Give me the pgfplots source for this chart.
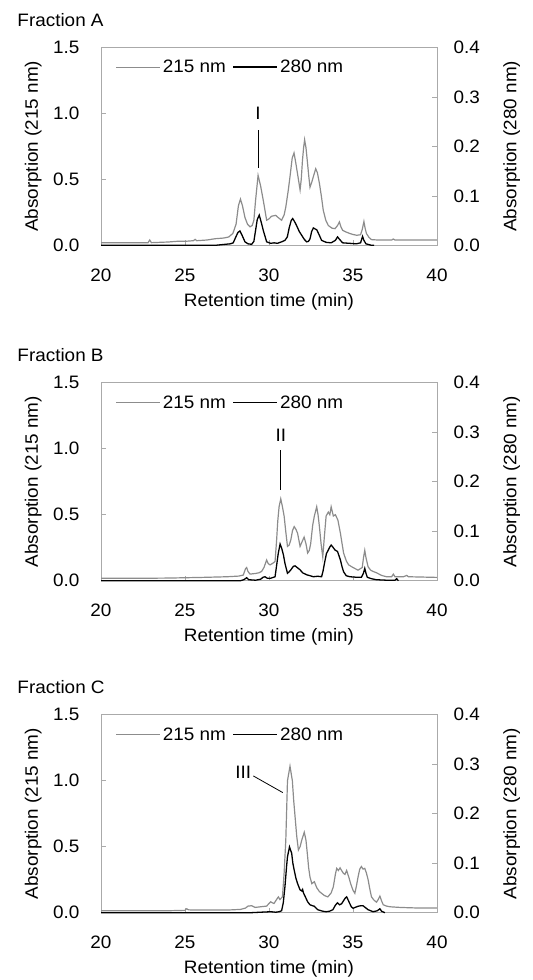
\documentclass[border=0pt]{standalone}
\usepackage{fontspec}
\setmainfont{Liberation Sans}[FakeStretch=1.05]
\usepackage{pgfplots}
\pgfplotsset{compat=1.18}

\definecolor{framegray}{RGB}{170,170,170}
\definecolor{gray215}{RGB}{140,140,140}
\newcommand\lbl{\fontsize{18bp}{21bp}\selectfont}

\pgfplotsset{
  base/.style={width=336bp,height=198bp,scale only axis,clip=false,
    xmin=20,xmax=40,
    /pgf/number format/assume math mode=true,
    axis line style={framegray,line width=0.6pt},
    tick style={framegray,line width=0.6pt},
    major tick length=5bp,tick align=inside,
    every tick label/.append style={font=\lbl},
    label style={font=\lbl},
    y tick label style={/pgf/number format/.cd,fixed,fixed zerofill,precision=1}},
  lft/.style={base,ymin=0,ymax=1.5,ytick={0,0.5,1,1.5},
    xtick={20,25,30,35,40},xtick pos=bottom,ytick pos=left,
    yticklabel shift=18bp,xticklabel shift=20bp,
    xlabel={Retention time (min)},
    xlabel style={at={(axis description cs:0.5,-0.285)},anchor=center},
    ylabel={Absorption (215 nm)},
    ylabel style={at={(axis description cs:-0.202,0.5)},anchor=center}},
  rgt/.style={base,ymin=0,ymax=0.4,ytick={0,0.1,0.2,0.3,0.4},
    hide x axis,axis y line*=right,tick align=inside,
    yticklabel shift=13bp,
    ylabel={Absorption (280 nm)},
    ylabel style={at={(axis description cs:1.222,0.5)},anchor=center},
    legend style={draw=none,fill=none,font=\lbl,
      at={(axis description cs:0.034,0.9)},anchor=west,
      legend columns=2,/tikz/every even column/.append style={column sep=5bp}},
    legend image code/.code={\draw[#1] (0bp,0bp) -- (44bp,0bp);}},
  l215/.style={gray215,line width=1.2pt},
  l280/.style={black,line width=1.3pt}
}

\begin{document}
\begin{tikzpicture}
\path[use as bounding box] (0,0) rectangle (533bp,-980bp);

% ---------- Fraction A ----------
\begin{axis}[lft,at={(101bp,-245.3bp)},anchor=south west]
\addplot[l215] coordinates {(20,0.02) (21,0.02) (22,0.02) (22.8,0.02) (22.9,0.04) (23.0,0.02) (24,0.025) (24.5,0.03) (25,0.03) (25.5,0.035) (25.6,0.045) (25.7,0.035) (26.3,0.04) (26.8,0.05) (27.3,0.055) (27.6,0.063) (27.85,0.09) (28.04,0.16) (28.18,0.30) (28.3,0.35) (28.42,0.30) (28.57,0.21) (28.72,0.16) (28.87,0.14) (29.0,0.15) (29.1,0.19) (29.2,0.34) (29.35,0.53) (29.5,0.45) (29.66,0.34) (29.86,0.19) (30.0,0.20) (30.15,0.22) (30.4,0.227) (30.55,0.21) (30.75,0.19) (30.9,0.23) (31.0,0.29) (31.15,0.42) (31.25,0.52) (31.38,0.66) (31.49,0.70) (31.6,0.62) (31.7,0.54) (31.85,0.42) (31.92,0.50) (31.99,0.64) (32.06,0.74) (32.12,0.80) (32.2,0.74) (32.28,0.64) (32.37,0.52) (32.44,0.44) (32.55,0.48) (32.64,0.52) (32.78,0.58) (32.88,0.55) (33.0,0.47) (33.12,0.37) (33.23,0.265) (33.38,0.19) (33.53,0.15) (33.75,0.13) (33.93,0.126) (34.08,0.15) (34.19,0.177) (34.28,0.14) (34.38,0.114) (34.6,0.10) (34.82,0.089) (35.0,0.082) (35.22,0.076) (35.45,0.08) (35.55,0.12) (35.65,0.18) (35.72,0.13) (35.8,0.089) (35.95,0.06) (36.1,0.043) (36.5,0.04) (37.3,0.04) (37.4,0.048) (37.5,0.04) (38.5,0.04) (39.5,0.04) (40,0.04)};
\node[font=\lbl] at (axis cs:29.35,1.0) {I};
\draw[black,line width=0.8pt] (axis cs:29.35,0.873) -- (axis cs:29.35,0.585);
\node[anchor=west,font=\lbl] at (axis description cs:-0.259,1.138) {Fraction A};
\end{axis}
\begin{axis}[rgt,at={(101bp,-245.3bp)},anchor=south west]
\addlegendimage{l215}\addlegendentry{215 nm}
\addplot[l280] coordinates {(20,0) (26.8,0) (27.4,0.002) (27.7,0.003) (27.87,0.005) (28.0,0.015) (28.15,0.026) (28.27,0.029) (28.4,0.02) (28.57,0.007) (28.75,0.003) (28.97,0.002) (29.1,0.008) (29.2,0.03) (29.3,0.052) (29.42,0.061) (29.55,0.045) (29.66,0.03) (29.86,0.007) (30.1,0.004) (30.3,0.005) (30.5,0.004) (30.75,0.007) (30.95,0.01) (31.09,0.017) (31.2,0.035) (31.32,0.05) (31.41,0.054) (31.52,0.048) (31.64,0.04) (31.8,0.028) (31.95,0.02) (32.1,0.012) (32.24,0.007) (32.35,0.008) (32.44,0.013) (32.54,0.028) (32.64,0.035) (32.75,0.033) (32.85,0.031) (33.0,0.02) (33.13,0.01) (33.4,0.006) (33.7,0.005) (33.95,0.01) (34.08,0.017) (34.2,0.012) (34.38,0.005) (34.8,0.004) (35.2,0.003) (35.45,0.005) (35.57,0.018) (35.65,0.01) (35.77,0.003) (36.1,0) (36.25,0)};
\addlegendentry{280 nm}
\end{axis}

% ---------- Fraction B ----------
\begin{axis}[lft,at={(101bp,-580.7bp)},anchor=south west]
\addplot[l215] coordinates {(20,0.018) (22,0.018) (24,0.02) (26,0.025) (27.5,0.03) (28.2,0.035) (28.47,0.043) (28.6,0.09) (28.67,0.10) (28.75,0.07) (28.87,0.05) (29.2,0.055) (29.4,0.06) (29.56,0.07) (29.7,0.10) (29.86,0.157) (29.95,0.13) (30.06,0.12) (30.2,0.13) (30.36,0.145) (30.45,0.30) (30.52,0.45) (30.6,0.56) (30.7,0.62) (30.8,0.56) (30.9,0.49) (31.0,0.37) (31.1,0.26) (31.2,0.27) (31.3,0.31) (31.4,0.38) (31.5,0.41) (31.6,0.39) (31.7,0.36) (31.85,0.26) (31.95,0.29) (32.09,0.33) (32.2,0.28) (32.3,0.21) (32.4,0.23) (32.48,0.28) (32.6,0.42) (32.7,0.49) (32.84,0.56) (32.92,0.50) (33.0,0.41) (33.1,0.28) (33.2,0.18) (33.3,0.34) (33.4,0.49) (33.53,0.52) (33.62,0.50) (33.7,0.56) (33.83,0.49) (33.95,0.50) (34.1,0.46) (34.25,0.36) (34.35,0.28) (34.44,0.21) (34.6,0.15) (34.74,0.12) (35.0,0.10) (35.3,0.08) (35.55,0.10) (35.62,0.17) (35.7,0.23) (35.78,0.17) (35.9,0.105) (36.05,0.08) (36.2,0.07) (36.4,0.06) (36.7,0.04) (37.0,0.03) (37.3,0.03) (37.4,0.05) (37.5,0.03) (38.0,0.03) (38.2,0.04) (38.3,0.03) (39,0.028) (40,0.025)};
\node[font=\lbl] at (axis cs:30.7,1.10) {II};
\draw[black,line width=0.8pt] (axis cs:30.7,0.99) -- (axis cs:30.7,0.69);
\node[anchor=west,font=\lbl] at (axis description cs:-0.259,1.138) {Fraction B};
\end{axis}
\begin{axis}[rgt,at={(101bp,-580.7bp)},anchor=south west]
\addlegendimage{l215}\addlegendentry{215 nm}
\addplot[l280] coordinates {(20,0) (28.3,0) (28.5,0.002) (28.67,0.006) (28.8,0.002) (29.2,0.001) (29.5,0.003) (29.65,0.007) (29.76,0.008) (29.9,0.005) (30.1,0.005) (30.36,0.008) (30.45,0.03) (30.55,0.055) (30.66,0.074) (30.76,0.065) (30.86,0.052) (30.95,0.035) (31.1,0.015) (31.2,0.018) (31.3,0.022) (31.45,0.029) (31.55,0.03) (31.7,0.026) (31.85,0.022) (32.0,0.016) (32.24,0.012) (32.45,0.01) (32.64,0.008) (32.9,0.009) (33.13,0.008) (33.22,0.02) (33.3,0.035) (33.42,0.055) (33.53,0.062) (33.62,0.068) (33.7,0.072) (33.8,0.068) (33.93,0.062) (34.08,0.059) (34.17,0.05) (34.25,0.042) (34.35,0.028) (34.44,0.018) (34.6,0.01) (34.82,0.008) (35.2,0.007) (35.5,0.007) (35.62,0.015) (35.7,0.025) (35.78,0.014) (35.85,0.007) (36.1,0.004) (36.4,0.002) (37.0,0.001) (37.5,0.001) (37.6,0.004) (37.7,0)};
\addlegendentry{280 nm}
\end{axis}

% ---------- Fraction C ----------
\begin{axis}[lft,at={(101bp,-912.7bp)},anchor=south west]
\addplot[l215] coordinates {(20,0.015) (22,0.015) (24,0.015) (25.0,0.018) (25.1,0.03) (25.2,0.022) (25.5,0.02) (26.5,0.02) (27.5,0.02) (28.3,0.025) (28.6,0.035) (28.75,0.05) (28.97,0.053) (29.17,0.04) (29.5,0.045) (29.86,0.05) (30.0,0.07) (30.1,0.083) (30.2,0.075) (30.3,0.07) (30.45,0.10) (30.56,0.12) (30.65,0.10) (30.8,0.12) (30.9,0.30) (31.0,0.55) (31.1,1.0) (31.25,1.11) (31.39,1.0) (31.47,0.85) (31.55,0.73) (31.65,0.58) (31.75,0.475) (31.85,0.50) (31.95,0.55) (32.1,0.61) (32.2,0.55) (32.28,0.45) (32.36,0.34) (32.44,0.27) (32.55,0.22) (32.7,0.235) (32.84,0.19) (33.0,0.16) (33.13,0.147) (33.3,0.13) (33.5,0.12) (33.7,0.15) (33.83,0.197) (33.95,0.29) (34.03,0.336) (34.13,0.32) (34.23,0.34) (34.32,0.32) (34.42,0.30) (34.52,0.29) (34.62,0.32) (34.75,0.27) (34.86,0.22) (35.0,0.17) (35.11,0.147) (35.2,0.20) (35.3,0.27) (35.4,0.33) (35.5,0.35) (35.6,0.33) (35.7,0.336) (35.8,0.30) (35.9,0.25) (36.0,0.18) (36.1,0.12) (36.25,0.095) (36.4,0.08) (36.5,0.10) (36.6,0.126) (36.7,0.09) (36.8,0.06) (37.0,0.05) (37.2,0.045) (37.8,0.04) (39,0.035) (40,0.035)};
\node[font=\lbl] at (axis cs:28.47,1.066) {III};
\draw[black,line width=0.8pt] (axis cs:29.07,1.036) -- (axis cs:30.82,0.91);
\node[anchor=west,font=\lbl] at (axis description cs:-0.259,1.138) {Fraction C};
\end{axis}
\begin{axis}[rgt,at={(101bp,-912.7bp)},anchor=south west]
\addlegendimage{l215}\addlegendentry{215 nm}
\addplot[l280] coordinates {(20,0) (28.9,0) (29.5,0.001) (30.1,0.002) (30.4,0.001) (30.6,0.002) (30.75,0.004) (30.85,0.02) (30.95,0.053) (31.05,0.095) (31.1,0.113) (31.22,0.133) (31.35,0.12) (31.42,0.10) (31.5,0.086) (31.6,0.07) (31.7,0.059) (31.85,0.046) (31.95,0.044) (32.0,0.047) (32.05,0.04) (32.15,0.033) (32.3,0.022) (32.44,0.016) (32.6,0.014) (32.7,0.013) (32.9,0.006) (33.2,0.003) (33.4,0.002) (33.6,0.003) (33.8,0.006) (33.95,0.015) (34.07,0.02) (34.2,0.016) (34.32,0.018) (34.45,0.025) (34.55,0.03) (34.62,0.032) (34.72,0.025) (34.8,0.019) (34.9,0.012) (35.0,0.009) (35.15,0.011) (35.3,0.013) (35.45,0.014) (35.6,0.014) (35.75,0.01) (35.9,0.006) (36.2,0.002) (36.45,0.004) (36.6,0.008) (36.7,0.003) (36.9,0)};
\addlegendentry{280 nm}
\end{axis}
\end{tikzpicture}
\end{document}
